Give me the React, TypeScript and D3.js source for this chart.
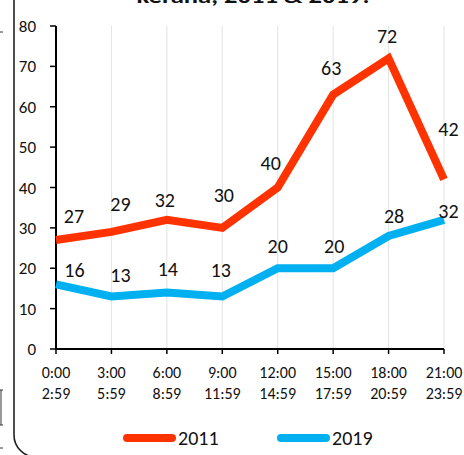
import React from "react";
import * as d3 from "d3";

const timeStart = ["0:00", "3:00", "6:00", "9:00", "12:00", "15:00", "18:00", "21:00"];
const timeEnd = ["2:59", "5:59", "8:59", "11:59", "14:59", "17:59", "20:59", "23:59"];
const values2011 = [27, 29, 32, 30, 40, 63, 72, 42];
const values2019 = [16, 13, 14, 13, 20, 20, 28, 32];
const yTicks = [0, 10, 20, 30, 40, 50, 60, 70, 80];
const seriesNames = ["2011", "2019"];
const titleText = "kerana, 2011 & 2019.";

// label nudges (layout only)
const lblDx2011 = [18, 9, -2, 1.5, -7, -2, -1.5, 4.5];
const lblDy2011 = [-24, -28, -20, -33, -24.5, -27, -23, -51];
const lblDx2019 = [18.5, 9, 1, -1.5, 0, 1, 5.5, 4.5];
const lblDy2019 = [-15, -22, -24, -27, -22.5, -22.5, -20.5, -9];

const FONT = "Carlito, Calibri, Lato, 'Open Sans', sans-serif";
const RED = "#FF3300";
const BLUE = "#00B0F0";

export default function App() {
  const W = 464;
  const H = 455;
  const idx = timeStart.map((_, i) => i);
  const x = d3.scalePoint<number>().domain(idx).range([56, 444]);
  const y = d3.scaleLinear().domain([0, 80]).range([349, 26]);
  const line = d3
    .line<number>()
    .x((_, i) => x(i) as number)
    .y((d) => y(d));

  const series = [
    { name: seriesNames[0], values: values2011, color: RED, dx: lblDx2011, dy: lblDy2011 },
    { name: seriesNames[1], values: values2019, color: BLUE, dx: lblDx2019, dy: lblDy2019 },
  ];

  return (
    <svg
      width={W}
      height={H}
      style={{ position: "absolute", left: 0, top: 0, overflow: "hidden", background: "#fff" }}
      fontFamily={FONT}
    >
      <rect x={0} y={0} width={W} height={H} fill="#fff" />
      {/* frame */}
      <rect x={14} y={-40} width={520} height={497} rx={22} ry={22} fill="none" stroke="#222" strokeWidth={1.6} />
      {/* left remnants */}
      <path d="M0,32 H3 M1,390 V425 M0,390 H3 M0,425 H3 M0,448 H3" stroke="#333" strokeWidth={1} fill="none" />
      {/* title (cut off) */}
      <text x={253} y={3} textAnchor="middle" fontWeight="bold" fontSize={20} fill="#111" textLength={233} lengthAdjust="spacingAndGlyphs">
        {titleText}
      </text>
      {/* gridlines */}
      {idx.slice(1).map((i) => (
        <line key={"g" + i} x1={x(i)} x2={x(i)} y1={y(80)} y2={y(0)} stroke="#e3e3e3" strokeWidth={1} />
      ))}
      {/* y axis */}
      <line x1={56} x2={56} y1={y(80)} y2={y(0)} stroke="#000" strokeWidth={2} />
      {yTicks.map((t) => (
        <g key={"y" + t}>
          <line x1={50} x2={56} y1={y(t)} y2={y(t)} stroke="#000" strokeWidth={1.5} />
          <text x={36} y={y(t) + 0.36 * 17} textAnchor="end" fontSize={17} fill="#111">
            {t}
          </text>
        </g>
      ))}
      {/* x axis */}
      <line x1={x(0)} x2={x(7)} y1={y(0)} y2={y(0)} stroke="#000" strokeWidth={2} />
      {idx.map((i) => (
        <g key={"x" + i}>
          <line x1={x(i)} x2={x(i)} y1={y(0)} y2={y(0) + 5} stroke="#000" strokeWidth={1.5} />
          <text x={x(i)} y={378} textAnchor="middle" fontSize={16} fill="#111">
            {timeStart[i]}
          </text>
          <text x={x(i)} y={398.5} textAnchor="middle" fontSize={16} fill="#111">
            {timeEnd[i]}
          </text>
        </g>
      ))}
      {/* lines */}
      {series.map((s) => (
        <path key={s.name} d={line(s.values) || ""} fill="none" stroke={s.color} strokeWidth={8} strokeLinejoin="miter" />
      ))}
      {/* labels */}
      {series.map((s) =>
        s.values.map((v, i) => (
          <text
            key={s.name + "l" + i}
            x={(x(i) as number) + s.dx[i]}
            y={y(v) + s.dy[i] + 0.36 * 20}
            textAnchor="middle"
            fontSize={20}
            fill="#111"
          >
            {v}
          </text>
        ))
      )}
      {/* legend */}
      {series.map((s, k) => {
        const lx = k === 0 ? 127 : 281;
        return (
          <g key={"leg" + k}>
            <line x1={lx} x2={lx + 45} y1={438} y2={438} stroke={s.color} strokeWidth={8} strokeLinecap="round" />
            <text x={lx + 51} y={438 + 0.36 * 20} fontSize={20} fill="#111">
              {s.name}
            </text>
          </g>
        );
      })}
    </svg>
  );
}
